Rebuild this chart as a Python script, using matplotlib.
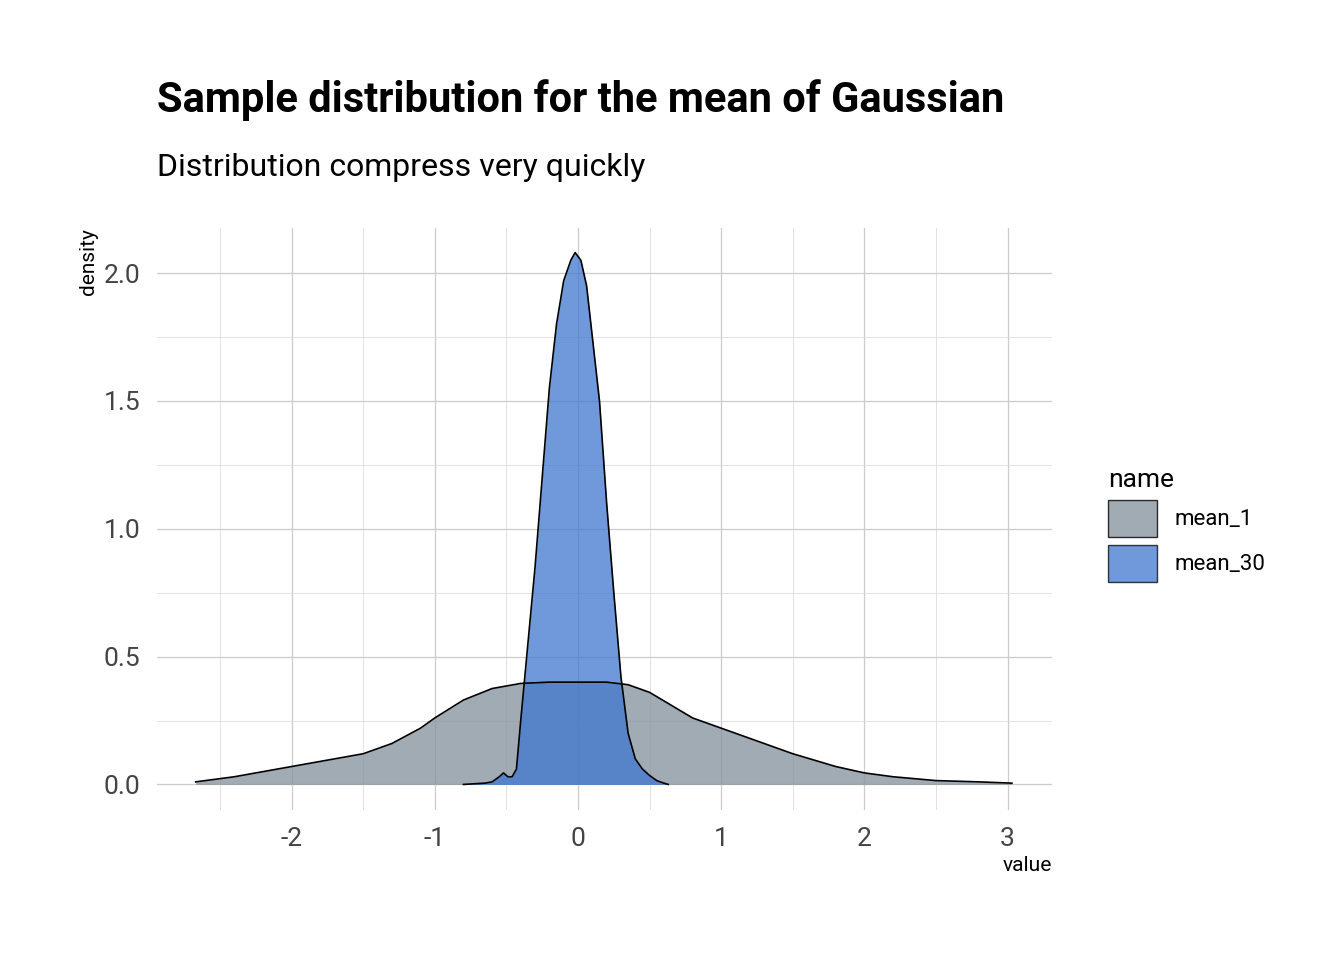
import matplotlib
matplotlib.use("Agg")
import matplotlib.pyplot as plt
from matplotlib.patches import Patch

plt.rcParams['font.family'] = ['Liberation Sans Narrow', 'Roboto', 'DejaVu Sans']

x1 = [-2.67, -2.4, -2.0, -1.7, -1.5, -1.3, -1.1, -1.0, -0.8, -0.6, -0.4, -0.2, 0.0, 0.2, 0.35, 0.5, 0.65, 0.8, 1.0, 1.2, 1.5, 1.8, 2.0, 2.2, 2.5, 2.8, 3.03]
y1 = [0.01, 0.03, 0.07, 0.10, 0.12, 0.16, 0.22, 0.26, 0.33, 0.375, 0.395, 0.40, 0.40, 0.40, 0.39, 0.36, 0.31, 0.26, 0.22, 0.18, 0.12, 0.07, 0.045, 0.03, 0.015, 0.01, 0.005]

x2 = [-0.8, -0.65, -0.6, -0.55, -0.52, -0.49, -0.46, -0.43, -0.4, -0.35, -0.3, -0.25, -0.2, -0.15, -0.1, -0.05, -0.02, 0.02, 0.06, 0.1, 0.15, 0.2, 0.25, 0.3, 0.35, 0.4, 0.45, 0.5, 0.55, 0.6, 0.63]
y2 = [0.0, 0.005, 0.01, 0.03, 0.045, 0.03, 0.03, 0.06, 0.25, 0.55, 0.85, 1.2, 1.55, 1.8, 1.97, 2.05, 2.08, 2.05, 1.95, 1.75, 1.5, 1.1, 0.75, 0.42, 0.2, 0.1, 0.06, 0.035, 0.015, 0.005, 0.0]

names = ['mean_1', 'mean_30']
grey = '#8896a1'
blue = '#3f77d0'

fig = plt.figure(figsize=(13.44, 9.6), dpi=100)
ax = fig.add_axes([157/1344, 1-810/960, (1052-157)/1344, (810-228)/960])
ax.fill_between(x1, y1, color=grey, alpha=0.8, lw=0)
ax.plot(x1, y1, color='black', lw=1.2)
ax.fill_between(x2, y2, color=blue, alpha=0.75, lw=0)
ax.plot(x2, y2, color='black', lw=1.2)

ax.set_xlim(-2.94, 3.31)
ax.set_ylim(-0.1, 2.176)
ax.set_xticks([-2, -1, 0, 1, 2, 3])
ax.set_xticklabels(['-2', '-1', '0', '1', '2', '3'])
ax.set_yticks([0, 0.5, 1.0, 1.5, 2.0])
ax.set_yticklabels(['0.0', '0.5', '1.0', '1.5', '2.0'])
ax.set_xticks([-2.5, -1.5, -0.5, 0.5, 1.5, 2.5], minor=True)
ax.set_yticks([0.25, 0.75, 1.25, 1.75], minor=True)
ax.grid(True, which='major', color='#cccccc', lw=0.9)
ax.grid(True, which='minor', color='#dddddd', lw=0.6)
ax.set_axisbelow(True)
for s in ax.spines.values():
    s.set_visible(False)
ax.tick_params(which='both', length=0, labelsize=19, colors='#444444', pad=12)
ax.set_xlabel('value', fontsize=15, loc='right')
ax.set_ylabel('density', fontsize=15, loc='top')

fig.text(157/1344, 1-100/960, 'Sample distribution for the mean of Gaussian', fontsize=30, fontweight='bold', va='center')
fig.text(157/1344, 1-168/960, 'Distribution compress very quickly', fontsize=23, va='center')

handles = [Patch(facecolor=grey, alpha=0.8, edgecolor='black'), Patch(facecolor=blue, alpha=0.75, edgecolor='black')]
leg = fig.legend(handles, names, title='name', loc='center left', bbox_to_anchor=(1088/1344, 1-525/960),
                 frameon=False, fontsize=16, title_fontsize=19, handlelength=2.2, handleheight=2.2, labelspacing=0.35)
leg._legend_box.align = 'left'
fig.savefig('out.png', dpi=100)
